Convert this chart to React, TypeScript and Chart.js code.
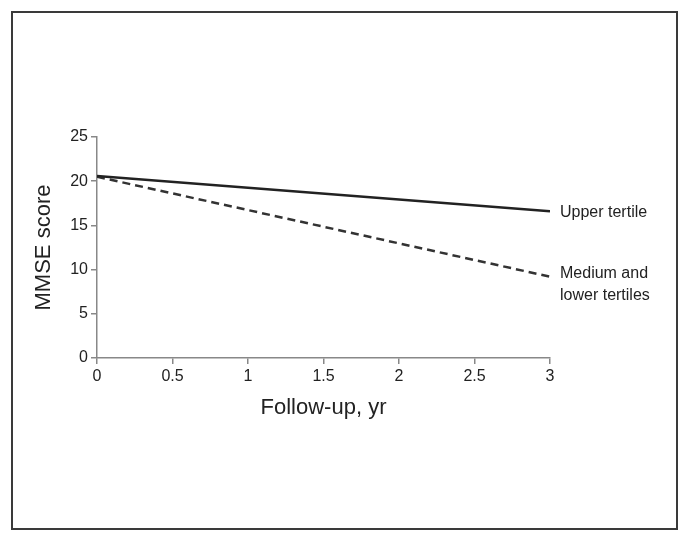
import { useEffect, useRef } from "react";
import { Chart, registerables } from "chart.js";

Chart.register(...registerables);

const followUpYears = [0, 3];
const upperTertile = [20.6, 16.6];
const mediumLowerTertiles = [20.5, 9.2];
const yTickValues = [0, 5, 10, 15, 20, 25];
const xTickValues = [0, 0.5, 1, 1.5, 2, 2.5, 3];
const seriesLabels = ["Upper tertile", ["Medium and", "lower tertiles"]];
const xTitle = "Follow-up, yr";
const yTitle = "MMSE score";

const FONT = "'Liberation Sans', Arial, sans-serif";
const W = 690;
const H = 542;

const decorPlugin = {
  id: "decor",
  beforeDraw(chart: any) {
    const ctx = chart.ctx;
    ctx.save();
    ctx.fillStyle = "#fff";
    ctx.fillRect(0, 0, W, H);
    ctx.strokeStyle = "#3a3a3a";
    ctx.lineWidth = 2;
    ctx.strokeRect(12, 12, 665, 517);
    ctx.restore();
  },
  afterDraw(chart: any) {
    const ctx = chart.ctx;
    const xs = chart.scales.x;
    const ys = chart.scales.y;
    const area = chart.chartArea;
    ctx.save();
    ctx.fillStyle = "#222";
    // axis titles
    ctx.font = `22px ${FONT}`;
    ctx.textAlign = "center";
    ctx.textBaseline = "middle";
    ctx.fillText(xTitle, (area.left + area.right) / 2, 408);
    ctx.save();
    ctx.translate(44, (area.top + area.bottom) / 2);
    ctx.rotate(-Math.PI / 2);
    ctx.fillText(yTitle, 0, 0);
    ctx.restore();
    // series labels
    ctx.font = `16px ${FONT}`;
    ctx.textAlign = "left";
    const lastX = followUpYears[followUpYears.length - 1];
    const lx = xs.getPixelForValue(lastX) + 10;
    const y1 = ys.getPixelForValue(upperTertile[upperTertile.length - 1]);
    ctx.fillText(seriesLabels[0] as string, lx, y1 + 1);
    const y2 = ys.getPixelForValue(mediumLowerTertiles[mediumLowerTertiles.length - 1]);
    const lines = seriesLabels[1] as string[];
    ctx.fillText(lines[0], lx, y2 - 3);
    ctx.fillText(lines[1], lx, y2 + 19);
    ctx.restore();
  },
};

export default function App() {
  const ref = useRef<HTMLCanvasElement | null>(null);
  useEffect(() => {
    if (!ref.current) return;
    const chart = new Chart(ref.current, {
      type: "line",
      data: {
        datasets: [
          {
            label: seriesLabels[0] as string,
            data: followUpYears.map((x, i) => ({ x, y: upperTertile[i] })),
            borderColor: "#222",
            borderWidth: 2.5,
            pointRadius: 0,
            fill: false,
          },
          {
            label: "Medium and lower tertiles",
            data: followUpYears.map((x, i) => ({ x, y: mediumLowerTertiles[i] })),
            borderColor: "#333",
            borderWidth: 2.5,
            borderDash: [8, 5],
            pointRadius: 0,
            fill: false,
          },
        ],
      },
      options: {
        responsive: false,
        animation: false,
        devicePixelRatio: 1,
        layout: { padding: { left: 0, right: 140, top: 137, bottom: 0 } },
        plugins: { legend: { display: false }, tooltip: { enabled: false } },
        scales: {
          x: {
            type: "linear",
            min: 0,
            max: 3,
            afterBuildTicks: (s: any) => {
              s.ticks = xTickValues.map((v) => ({ value: v }));
            },
            afterFit: (s: any) => {
              s.height = H - 358;
            },
            grid: { drawOnChartArea: false, drawTicks: true, tickLength: 6, color: "#888", lineWidth: 1.5 },
            border: { color: "#888", width: 1.5 },
            ticks: {
              color: "#222",
              font: { family: FONT, size: 16 },
              padding: 3,
              maxRotation: 0,
              autoSkip: false,
              callback: (v: any) => String(Number(v)),
            },
          },
          y: {
            type: "linear",
            min: 0,
            max: 25,
            afterBuildTicks: (s: any) => {
              s.ticks = yTickValues.map((v) => ({ value: v }));
            },
            afterFit: (s: any) => {
              s.width = 97;
            },
            grid: { drawOnChartArea: false, drawTicks: true, tickLength: 6, color: "#888", lineWidth: 1.5 },
            border: { color: "#888", width: 1.5 },
            ticks: { color: "#222", font: { family: FONT, size: 16 }, padding: 3, callback: (v: any) => String(Number(v)) },
          },
        },
      },
      plugins: [decorPlugin],
    } as any);
    return () => chart.destroy();
  }, []);
  return (
    <div style={{ position: "absolute", left: 0, top: 0, width: W, height: H }}>
      <canvas ref={ref} width={W} height={H} />
    </div>
  );
}
